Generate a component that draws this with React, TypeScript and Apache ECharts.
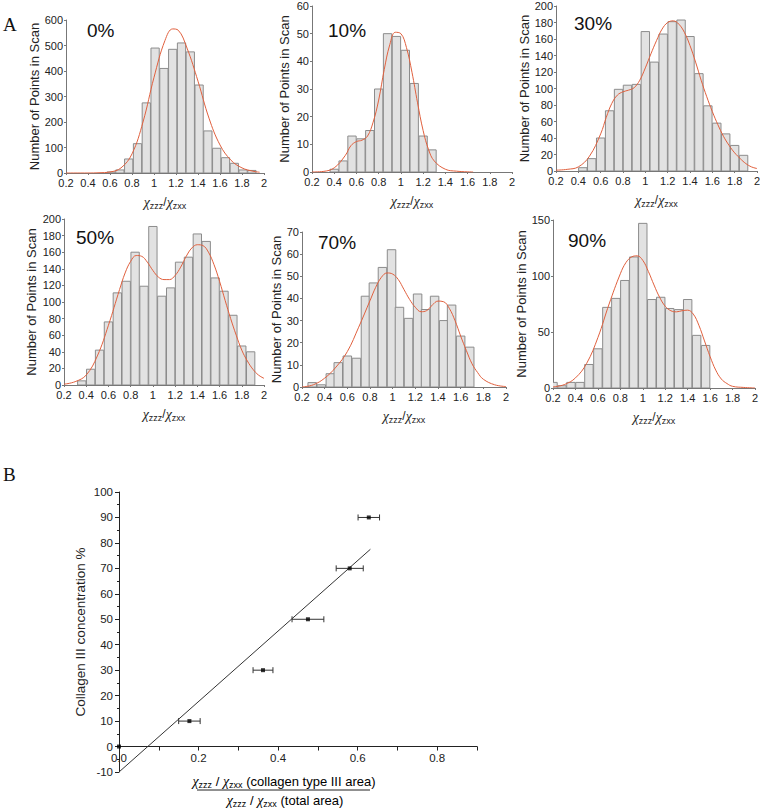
import React, { useEffect, useRef } from 'react';
import * as echarts from 'echarts';

const FONT = '"Liberation Sans", Arial, Helvetica, sans-serif';
const SERIF = '"Liberation Serif", "Times New Roman", serif';

// ---------- Panel A data (histograms: bin centres, counts, fitted curve) ----------
const labels = ['0%', '10%', '30%', '50%', '70%', '90%'];
const binWidth = 0.075;

const c0 = [0.61, 0.69, 0.77, 0.85, 0.93, 1.01, 1.09, 1.17, 1.25, 1.33, 1.41, 1.49, 1.57, 1.65, 1.73, 1.81, 1.89];
const n0 = [4, 12, 55, 115, 275, 490, 410, 485, 510, 475, 345, 165, 97, 60, 38, 12, 10];
const fx0 = [0.2, 0.4, 0.5, 0.6, 0.7, 0.8, 0.9, 1.0, 1.1, 1.17, 1.22, 1.3, 1.4, 1.5, 1.6, 1.7, 1.8, 1.9, 1.96];
const fy0 = [0, 0, 1, 4, 20, 75, 200, 375, 520, 565, 560, 490, 360, 215, 110, 50, 20, 7, 3];

const c1 = [0.40, 0.48, 0.56, 0.64, 0.72, 0.80, 0.88, 0.96, 1.04, 1.12, 1.20, 1.28];
const n1 = [1, 4, 13, 12, 15, 30, 50, 49, 44, 32, 13, 8];
const fx1 = [0.2, 0.3, 0.4, 0.5, 0.55, 0.6, 0.65, 0.7, 0.75, 0.8, 0.85, 0.9, 0.95, 1.0, 1.05, 1.1, 1.15, 1.2, 1.25, 1.3, 1.4, 1.5, 1.65];
const fy1 = [0, 0.2, 1.5, 6, 9.5, 11, 11.5, 13, 18, 26, 37, 46, 50.5, 50, 45, 36, 25, 15, 8, 4, 1, 0.3, 0];

const c2 = [0.44, 0.52, 0.60, 0.68, 0.76, 0.84, 0.92, 1.00, 1.08, 1.16, 1.24, 1.32, 1.40, 1.48, 1.56, 1.64, 1.72, 1.80, 1.88];
const n2 = [4, 15, 40, 73, 99, 104, 105, 169, 132, 166, 181, 183, 163, 118, 79, 58, 45, 31, 19];
const fx2 = [0.2, 0.3, 0.4, 0.5, 0.6, 0.65, 0.7, 0.75, 0.8, 0.85, 0.9, 0.95, 1.0, 1.05, 1.1, 1.15, 1.2, 1.25, 1.3, 1.35, 1.4, 1.45, 1.5, 1.55, 1.6, 1.65, 1.7, 1.75, 1.8, 1.85, 1.9, 1.95, 2.0];
const fy2 = [1, 2, 5, 18, 45, 65, 82, 92, 96, 98, 101, 110, 125, 142, 158, 172, 180, 182, 178, 168, 152, 132, 110, 90, 72, 56, 42, 31, 22, 15, 9, 5, 3];

const c3 = [0.36, 0.44, 0.52, 0.60, 0.68, 0.76, 0.84, 0.92, 1.00, 1.08, 1.16, 1.24, 1.32, 1.40, 1.48, 1.56, 1.64, 1.72, 1.80, 1.88];
const n3 = [5, 19, 42, 76, 111, 125, 160, 119, 191, 107, 117, 148, 154, 182, 173, 129, 113, 84, 47, 40];
const fx3 = [0.2, 0.3, 0.4, 0.5, 0.6, 0.7, 0.75, 0.8, 0.85, 0.9, 0.95, 1.0, 1.05, 1.1, 1.15, 1.2, 1.25, 1.3, 1.35, 1.4, 1.45, 1.5, 1.55, 1.6, 1.65, 1.7, 1.75, 1.8, 1.85, 1.9, 1.95, 2.0];
const fy3 = [1, 4, 12, 35, 72, 115, 135, 149, 156, 155, 148, 138, 130, 127, 127, 132, 142, 155, 165, 169, 168, 160, 145, 125, 102, 80, 60, 42, 29, 19, 12, 8];

const c4 = [0.29, 0.37, 0.45, 0.52, 0.60, 0.68, 0.76, 0.83, 0.91, 0.99, 1.06, 1.14, 1.22, 1.29, 1.37, 1.45, 1.52, 1.60, 1.68];
const n4 = [2, 1, 6, 11, 14, 13, 41, 47, 54, 62, 36, 31, 42, 35, 41, 30, 37, 23, 18];
const fx4 = [0.2, 0.3, 0.4, 0.5, 0.6, 0.7, 0.8, 0.85, 0.9, 0.95, 1.0, 1.05, 1.1, 1.15, 1.2, 1.25, 1.3, 1.35, 1.4, 1.45, 1.5, 1.55, 1.6, 1.65, 1.7, 1.75, 1.8, 1.9, 2.0];
const fy4 = [0, 1, 4, 9, 16, 27, 39, 45, 49.5, 51.5, 51, 48.5, 44, 39.5, 36, 34, 34.5, 37, 38.8, 38.5, 35.5, 30, 23, 16.5, 10.5, 6.5, 3.5, 1, 0.2];

const c5 = [0.20, 0.28, 0.36, 0.44, 0.52, 0.60, 0.68, 0.76, 0.84, 0.92, 1.00, 1.08, 1.16, 1.24, 1.32, 1.40, 1.48, 1.56];
const n5 = [5, 2, 5, 5, 21, 35, 72, 80, 96, 117, 147, 79, 81, 71, 70, 79, 47, 38];
const fx5 = [0.2, 0.3, 0.4, 0.5, 0.6, 0.7, 0.8, 0.85, 0.9, 0.95, 1.0, 1.05, 1.1, 1.15, 1.2, 1.25, 1.3, 1.35, 1.4, 1.45, 1.5, 1.55, 1.6, 1.65, 1.7, 1.75, 1.8, 1.9, 2.0];
const fy5 = [1, 3, 9, 22, 45, 75, 102, 112, 117, 118, 114, 104, 92, 81, 73, 69, 68, 69, 69.5, 66, 56, 42, 28, 16, 8, 4, 1.5, 0.5, 0];

const yMaxes = [600, 60, 200, 200, 70, 150];
const yIntervals = [100, 10, 20, 20, 10, 50];

// ---------- Panel B data ----------
const bX = [0, 0.177, 0.362, 0.475, 0.58, 0.628];
const bY = [0, 10, 30, 50, 70, 90];
const bErr = [0, 0.027, 0.025, 0.04, 0.034, 0.027];
const fitX = [0, 0.632];
const fitY = [-10, 77.5];

const centersAll = [c0, c1, c2, c3, c4, c5];
const countsAll = [n0, n1, n2, n3, n4, n5];
const fxAll = [fx0, fx1, fx2, fx3, fx4, fx5];
const fyAll = [fy0, fy1, fy2, fy3, fy4, fy5];

// layout (pixels)
const gridsA = [
  { left: 66, top: 20, width: 198, height: 153, gap: 23, label: [87, 21] },
  { left: 312, top: 6, width: 200, height: 166, gap: 21, label: [328, 21] },
  { left: 556, top: 6, width: 201, height: 165, gap: 20, label: [574, 14] },
  { left: 64, top: 219, width: 200, height: 166, gap: 26, label: [76, 228] },
  { left: 302, top: 232, width: 204, height: 155, gap: 14, label: [318, 233] },
  { left: 553, top: 220, width: 202, height: 168, gap: 19, label: [568, 231] },
];
const bGrid = { left: 119, top: 492, width: 358, height: 280 };

const chiRich = {
  c: { fontSize: 14, fontStyle: 'italic', fontFamily: SERIF, color: '#222' },
  s: { fontSize: 9, fontFamily: FONT, color: '#222', padding: [7, 0, 0, 0] },
  n: { fontSize: 12, fontFamily: FONT, color: '#222' },
  t: { fontSize: 13, fontFamily: FONT, color: '#222' },
};

function buildOption() {
  const grid: any[] = [];
  const xAxis: any[] = [];
  const yAxis: any[] = [];
  const series: any[] = [];
  const graphic: any[] = [];

  gridsA.forEach((g, i) => {
    grid.push({ left: g.left, top: g.top, width: g.width, height: g.height, outerBoundsMode: 'none' });
    xAxis.push({
      type: 'value', gridIndex: i, min: 0.2, max: 2, interval: 0.2,
      name: '{c|χ}{s|zzz}{n|/}{c|χ}{s|zxx}', nameLocation: 'middle', nameGap: 21,
      nameTextStyle: { rich: chiRich },
      axisLine: { show: true, onZero: false, lineStyle: { color: '#777', width: 1 } },
      axisTick: { show: true, length: 2, lineStyle: { color: '#777' } },
      axisLabel: { fontSize: 11, fontFamily: FONT, color: '#222', margin: 4, formatter: (v: number) => String(+v.toFixed(1)) },
      splitLine: { show: false },
    });
    yAxis.push({
      type: 'value', gridIndex: i, min: 0, max: yMaxes[i], interval: yIntervals[i],
      name: 'Number of Points in Scan', nameLocation: 'middle', nameGap: g.gap,
      nameTextStyle: { fontSize: 13, fontFamily: FONT, color: '#222' },
      axisLine: { show: true, onZero: false, lineStyle: { color: '#777', width: 1 } },
      axisTick: { show: true, length: 2, lineStyle: { color: '#777' } },
      axisLabel: { fontSize: 11, fontFamily: FONT, color: '#222', margin: 3 },
      splitLine: { show: false },
    });
    series.push({
      type: 'custom', xAxisIndex: i, yAxisIndex: i, clip: true, z: 2,
      data: centersAll[i].map((c, k) => [c, countsAll[i][k]]),
      encode: { x: 0, y: 1 },
      renderItem: (_p: any, api: any) => {
        const c = api.value(0);
        const h = api.value(1);
        const a = api.coord([c - binWidth / 2, h]);
        const b = api.coord([c + binWidth / 2, 0]);
        return {
          type: 'rect',
          shape: { x: a[0], y: a[1], width: b[0] - a[0], height: b[1] - a[1] },
          style: { fill: '#e2e2e2', stroke: '#8c8c8c', lineWidth: 1 },
        };
      },
    });
    series.push({
      type: 'line', xAxisIndex: i, yAxisIndex: i, z: 3, smooth: 0.4,
      showSymbol: false, symbol: 'none',
      data: fxAll[i].map((x, k) => [x, fyAll[i][k]]),
      lineStyle: { color: '#e0603e', width: 1 },
    });
    graphic.push({
      type: 'text', x: g.label[0], y: g.label[1],
      style: { text: labels[i], fontSize: 19, fontFamily: FONT, fill: '#111', textVerticalAlign: 'top' },
    });
  });

  // Panel B
  const bi = gridsA.length;
  const yMinB = -10, yMaxB = 100;
  grid.push({ ...bGrid, outerBoundsMode: 'none' });
  xAxis.push({
    type: 'value', gridIndex: bi, min: 0, max: 0.9, interval: 0.1,
    position: 'bottom',
    // move the x axis up to the y = 0 line
    offset: -bGrid.height * (0 - yMinB) / (yMaxB - yMinB),
    axisLine: { show: true, onZero: false, lineStyle: { color: '#222', width: 1 } },
    axisTick: { show: true, length: 4, lineStyle: { color: '#222' } },
    axisLabel: {
      fontSize: 11.5, fontFamily: FONT, color: '#222', margin: 5,
      formatter: (v: number) => (Math.round(v * 10) % 2 === 0 ? v.toFixed(1) : ''),
    },
    splitLine: { show: false },
  });
  yAxis.push({
    type: 'value', gridIndex: bi, min: yMinB, max: yMaxB, interval: 10,
    name: 'Collagen III concentration %', nameLocation: 'middle', nameGap: 32,
    nameTextStyle: { fontSize: 13.5, fontFamily: FONT, color: '#222' },
    axisLine: { show: true, onZero: false, lineStyle: { color: '#222', width: 1 } },
    axisTick: { show: true, length: 4, lineStyle: { color: '#222' } },
    minorTick: { show: true, splitNumber: 2, length: 2, lineStyle: { color: '#222' } },
    axisLabel: { fontSize: 11.5, fontFamily: FONT, color: '#222', margin: 6 },
    splitLine: { show: false },
  });
  series.push({
    type: 'line', xAxisIndex: bi, yAxisIndex: bi, showSymbol: false, symbol: 'none', z: 2,
    data: fitX.map((x, k) => [x, fitY[k]]),
    lineStyle: { color: '#333', width: 1 },
  });
  series.push({
    type: 'custom', xAxisIndex: bi, yAxisIndex: bi, z: 3,
    data: bX.map((x, k) => [x, bY[k], bErr[k]]),
    encode: { x: 0, y: 1 },
    renderItem: (_p: any, api: any) => {
      const x = api.value(0), y = api.value(1), e = api.value(2);
      if (!e) return { type: 'group', children: [] };
      const l = api.coord([x - e, y]);
      const r = api.coord([x + e, y]);
      const st = { stroke: '#333', lineWidth: 1 };
      return {
        type: 'group',
        children: [
          { type: 'line', shape: { x1: l[0], y1: l[1], x2: r[0], y2: r[1] }, style: st },
          { type: 'line', shape: { x1: l[0], y1: l[1] - 3, x2: l[0], y2: l[1] + 3 }, style: st },
          { type: 'line', shape: { x1: r[0], y1: r[1] - 3, x2: r[0], y2: r[1] + 3 }, style: st },
        ],
      };
    },
  });
  series.push({
    type: 'scatter', xAxisIndex: bi, yAxisIndex: bi, z: 4,
    symbol: 'rect', symbolSize: 4,
    data: bX.map((x, k) => [x, bY[k]]),
    itemStyle: { color: '#000' },
  });

  graphic.push({ type: 'text', x: 3, y: 15, style: { text: 'A', fontSize: 19, fontFamily: SERIF, fill: '#111', textVerticalAlign: 'top' } });
  graphic.push({ type: 'text', x: 3, y: 465, style: { text: 'B', fontSize: 19, fontFamily: SERIF, fill: '#111', textVerticalAlign: 'top' } });
  graphic.push({
    type: 'text', x: 284, y: 781,
    style: {
      text: '{c|χ}{s|zzz}{t| / }{c|χ}{s|zxx}{t| (collagen type III area)}', rich: chiRich,
      textAlign: 'center', textVerticalAlign: 'middle',
    },
  });
  graphic.push({ type: 'line', shape: { x1: 197, y1: 790, x2: 370, y2: 790 }, style: { stroke: '#222', lineWidth: 1 } });
  graphic.push({
    type: 'text', x: 285, y: 800,
    style: {
      text: '{c|χ}{s|zzz}{t| / }{c|χ}{s|zxx}{t| (total area)}', rich: chiRich,
      textAlign: 'center', textVerticalAlign: 'middle',
    },
  });

  return { animation: false, backgroundColor: '#fff', grid, xAxis, yAxis, series, graphic };
}

export default function App() {
  const ref = useRef<HTMLDivElement>(null);
  useEffect(() => {
    if (!ref.current) return;
    const chart = echarts.init(ref.current, undefined, { renderer: 'svg' });
    chart.setOption(buildOption() as any);
    return () => chart.dispose();
  }, []);
  return <div ref={ref} style={{ position: 'absolute', left: 0, top: 0, width: 760, height: 808 }} />;
}
